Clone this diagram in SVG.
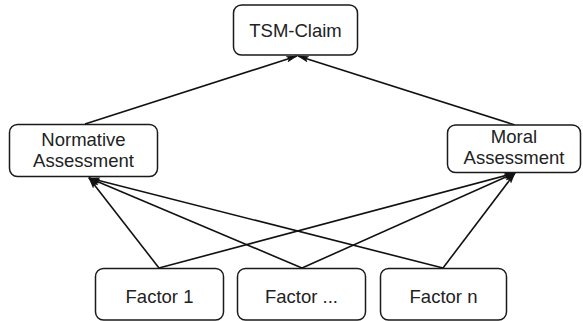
<svg xmlns="http://www.w3.org/2000/svg" width="583" height="321" viewBox="0 0 583 321">
  <style>
    .box { fill: #fff; stroke: #1a1a1a; stroke-width: 1.5; }
    .lbl { font-family: "Liberation Sans", Arial, sans-serif; font-size: 18.5px; fill: #222; text-anchor: middle; }
    .edge { stroke: #111; stroke-width: 1.6; fill: none; marker-end: url(#arrow); }
  </style>
  <defs>
    <marker id="arrow" markerWidth="12" markerHeight="8" refX="11" refY="4" orient="auto" markerUnits="userSpaceOnUse">
      <path d="M0,0.8 L12,4 L0,7.2 L2.5,4 Z" fill="#111"/>
    </marker>
  </defs>
  <rect width="583" height="321" fill="#fff"/>

  <g id="connectors">
    <line class="edge" x1="85" y1="124" x2="297" y2="56"/>
    <line class="edge" x1="515" y1="125" x2="298" y2="56"/>
    <line class="edge" x1="159" y1="268" x2="89" y2="178"/>
    <line class="edge" x1="159" y1="268" x2="515" y2="173"/>
    <line class="edge" x1="302" y1="268" x2="89" y2="178"/>
    <line class="edge" x1="302" y1="268" x2="515" y2="173"/>
    <line class="edge" x1="443" y1="268" x2="89" y2="178"/>
    <line class="edge" x1="443" y1="268" x2="515" y2="173"/>
  </g>

  <g id="tsm-claim">
    <rect class="box" x="233.5" y="5" width="124" height="50" rx="8"/>
    <text class="lbl" x="295.5" y="37">TSM-Claim</text>
  </g>
  <g id="normative">
    <rect class="box" x="9.5" y="124.5" width="148" height="52" rx="8"/>
    <text class="lbl" x="83.5" y="146">Normative</text>
    <text class="lbl" x="83.5" y="167">Assessment</text>
  </g>
  <g id="moral">
    <rect class="box" x="447.5" y="125" width="133" height="47.5" rx="8"/>
    <text class="lbl" x="514" y="143">Moral</text>
    <text class="lbl" x="514" y="164">Assessment</text>
  </g>
  <g id="factor-1">
    <rect class="box" x="95.5" y="268.5" width="128" height="51.5" rx="8"/>
    <text class="lbl" x="159.5" y="303">Factor 1</text>
  </g>
  <g id="factor-dots">
    <rect class="box" x="237.5" y="268.5" width="128" height="51.5" rx="8"/>
    <text class="lbl" x="301.5" y="303">Factor ...</text>
  </g>
  <g id="factor-n">
    <rect class="box" x="380.5" y="268.5" width="126" height="51.5" rx="8"/>
    <text class="lbl" x="443.5" y="303">Factor n</text>
  </g>
</svg>
